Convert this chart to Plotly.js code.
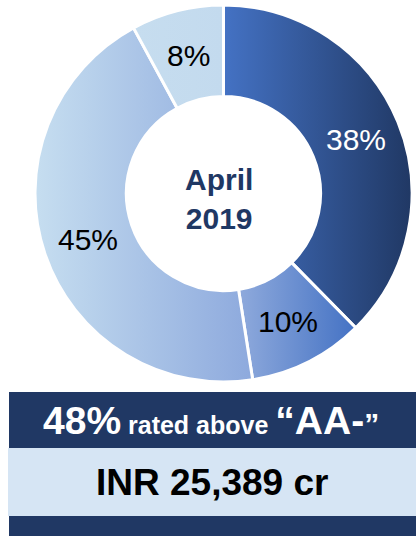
<!DOCTYPE html>
<html>
<head>
<meta charset="utf-8">
<script src="https://cdn.plot.ly/plotly-3.0.1.min.js"></script>
<style>html,body{margin:0;padding:0;background:#fff;}#chart{width:418px;height:536px;}</style>
</head>
<body>
<div id="chart"></div>
<script>
// ---- data ----
const categories = ["A", "B", "C", "D"];
const shares = [38, 10, 45, 8];
const shareLabels = ["38%", "10%", "45%", "8%"];
const centerTitle = ["April", "2019"];
const ratedShare = "48%";
const ratedText = "rated above";
const ratingGrade = "AA-";
const totalAum = "INR 25,389 cr";

// ---- styling ----
const W = 418, H = 536;
const FONT = 'Arial, "Liberation Sans", sans-serif';
const NAVY = '#203864';
const LIGHT = '#D6E5F4';
const gradients = [
  ['#4472C4', '#203864'],
  ['#8FAADC', '#4472C4'],
  ['#C6DEF0', '#8DA9DD'],
  ['#C6DDEF', '#C3DAEE']
];
const solidFallback = ['#3455A0', '#6A8ED0', '#A9C4E6', '#C5DCEF'];
const textColors = ['#FFFFFF', '#000000', '#000000', '#000000'];
const py = p => 1 - p / H;
const px = p => p / W;

// pie geometry (pixels)
const CX = 223.5, CY = 193.5, R_OUT = 188.5, HOLE = 0.515;
const R_MID = R_OUT * (1 + HOLE) / 2;

const trace = {
  type: 'pie',
  labels: categories,
  values: shares,
  textinfo: 'none',
  sort: false,
  direction: 'clockwise',
  rotation: 0,
  hole: HOLE,
  marker: {colors: solidFallback, line: {color: '#FFFFFF', width: 3}},
  domain: {x: [px(CX - R_OUT), px(CX + R_OUT)], y: [py(CY + R_OUT), py(CY - R_OUT)]},
  hoverinfo: 'none',
  showlegend: false
};

// slice labels at the middle of each slice, derived from the values
const total = shares.reduce((a, b) => a + b, 0);
let cum = 0;
const sliceAnnotations = shares.map(function (v, i) {
  const theta = 2 * Math.PI * (cum + v / 2) / total;
  cum += v;
  return {
    xref: 'paper', yref: 'paper',
    x: px(CX + R_MID * Math.sin(theta)), y: py(CY - R_MID * Math.cos(theta)),
    xanchor: 'center', yanchor: 'middle', showarrow: false,
    text: shareLabels[i], font: {family: FONT, size: 30, color: textColors[i]}
  };
});

const layout = {
  width: W, height: H,
  margin: {l: 0, r: 0, t: 0, b: 0},
  paper_bgcolor: '#FFFFFF',
  showlegend: false,
  font: {family: FONT},
  shapes: [
    {type: 'rect', xref: 'paper', yref: 'paper', x0: px(9), x1: px(416), y0: py(448), y1: py(392), fillcolor: NAVY, line: {width: 0}, layer: 'below'},
    {type: 'rect', xref: 'paper', yref: 'paper', x0: px(8), x1: px(416), y0: py(516), y1: py(448), fillcolor: LIGHT, line: {width: 0}, layer: 'below'},
    {type: 'rect', xref: 'paper', yref: 'paper', x0: px(9), x1: px(416), y0: 0, y1: py(516), fillcolor: NAVY, line: {width: 0}, layer: 'below'}
  ],
  annotations: sliceAnnotations.concat([
    {xref: 'paper', yref: 'paper', x: px(218.5), y: py(199.5), xanchor: 'center', yanchor: 'middle', showarrow: false,
     text: '<b>' + centerTitle.join('<br>') + '</b>', font: {family: FONT, size: 30, color: '#1F3864'}},
    {xref: 'paper', yref: 'paper', x: px(211), y: py(420), xanchor: 'center', yanchor: 'middle', showarrow: false,
     text: '<b>' + ratedShare + '<span style="font-size:25px"> ' + ratedText + ' </span>\u201C' + ratingGrade + '<span style="font-size:30px">\u201D</span></b>',
     font: {family: FONT, size: 39, color: '#FFFFFF'}},
    {xref: 'paper', yref: 'paper', x: px(212), y: py(482), xanchor: 'center', yanchor: 'middle', showarrow: false,
     text: '<b>' + totalAum + '</b>', font: {family: FONT, size: 37, color: '#000000'}}
  ])
};

Plotly.newPlot('chart', [trace], layout, {staticPlot: true, displayModeBar: false}).then(function (gd) {
  const svg = gd.querySelector('svg.main-svg');
  const NS = 'http://www.w3.org/2000/svg';
  let defs = svg.querySelector('defs');
  if (!defs) { defs = document.createElementNS(NS, 'defs'); svg.insertBefore(defs, svg.firstChild); }
  gradients.forEach(function (g, i) {
    const lg = document.createElementNS(NS, 'linearGradient');
    lg.setAttribute('id', 'sliceGrad' + i);
    lg.setAttribute('x1', '0'); lg.setAttribute('y1', '0');
    lg.setAttribute('x2', '1'); lg.setAttribute('y2', '0');
    const s0 = document.createElementNS(NS, 'stop');
    s0.setAttribute('offset', '0'); s0.setAttribute('stop-color', g[0]);
    const s1 = document.createElementNS(NS, 'stop');
    s1.setAttribute('offset', '1'); s1.setAttribute('stop-color', g[1]);
    lg.appendChild(s0); lg.appendChild(s1);
    defs.appendChild(lg);
  });
  const paths = gd.querySelectorAll('.slice path.surface');
  paths.forEach(function (p, i) {
    if (i < gradients.length) p.style.fill = 'url(#sliceGrad' + i + ')';
  });
});
</script>
</body>
</html>
